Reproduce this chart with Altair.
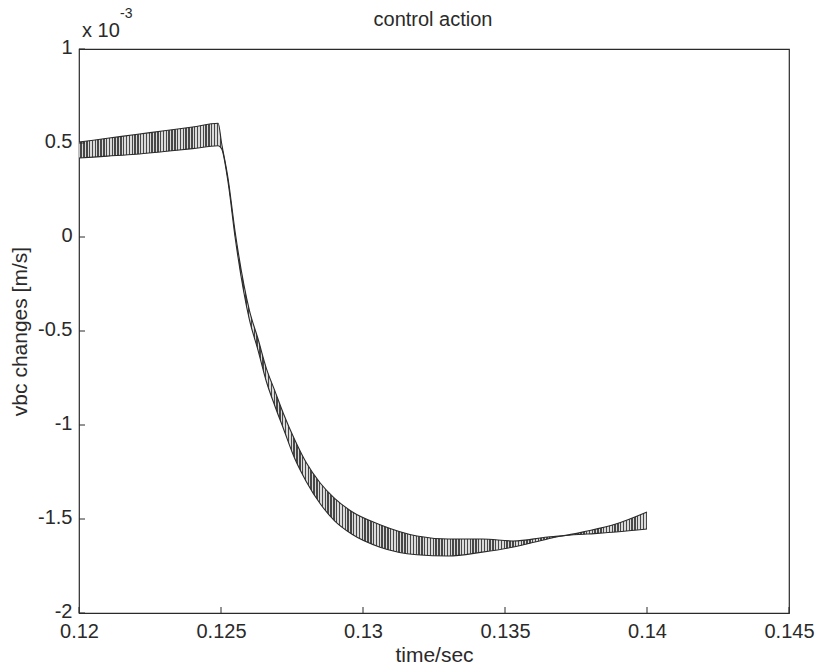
import altair as alt
import pandas as pd

# envelope of the switching control signal (x 1e-3 m/s)
times = [0.1200, 0.1210, 0.1220, 0.1230, 0.1240, 0.1249, 0.12502, 0.12525, 0.1255,
         0.1260, 0.1263, 0.1266, 0.1269, 0.1272, 0.1276, 0.1280, 0.1285, 0.1290,
         0.1296, 0.1306, 0.1319, 0.1330, 0.1342, 0.1353, 0.1365, 0.1370, 0.1379,
         0.1389, 0.1400]
upper = [0.505, 0.525, 0.545, 0.565, 0.585, 0.605, 0.50, 0.31, 0.025,
         -0.39, -0.54, -0.70, -0.82, -0.94, -1.08, -1.20, -1.31, -1.39,
         -1.46, -1.53, -1.590, -1.606, -1.606, -1.617, -1.596, -1.59, -1.564,
         -1.527, -1.463]
lower = [0.420, 0.430, 0.440, 0.455, 0.470, 0.485, 0.47, 0.29, -0.005,
         -0.44, -0.60, -0.77, -0.90, -1.02, -1.18, -1.30, -1.42, -1.51,
         -1.58, -1.650, -1.690, -1.697, -1.676, -1.649, -1.606, -1.59, -1.580,
         -1.569, -1.553]

x_ticks = [0.12, 0.125, 0.13, 0.135, 0.14, 0.145]
y_ticks = [-2, -1.5, -1, -0.5, 0, 0.5, 1]

df = pd.DataFrame({"t": times, "upper": upper, "lower": lower})
xt = pd.DataFrame({"v": x_ticks})
yt = pd.DataFrame({"v": y_ticks})
one = pd.DataFrame({"k": [0]})

W, H = 710, 564
FONT = "Liberation Sans"
FS = 20
INK = "#2a2a2a"

# vertical hatching (style only)
N = 200
stops = []
for i in range(N):
    stops += [
        {"offset": i / N, "color": "#d6d6d6"},
        {"offset": (i + 0.5) / N, "color": "#d6d6d6"},
        {"offset": (i + 0.5) / N, "color": "#333333"},
        {"offset": (i + 1) / N, "color": "#333333"},
    ]
hatch = {"gradient": "linear", "x1": 0, "y1": 0, "x2": 1, "y2": 0, "stops": stops}

xs = alt.Scale(domain=[0.12, 0.145], nice=False, zero=False)
ys = alt.Scale(domain=[-2, 1], nice=False, zero=False)

xaxis = alt.Axis(values=x_ticks, labelExpr="'' + datum.value", tickSize=0, domain=False,
                 grid=False, labelFont=FONT, labelFontSize=FS, labelColor=INK,
                 labelFlush=False, labelOverlap=False,
                 labelPadding=8, title="time/sec", titleFont=FONT, titleFontSize=FS + 1,
                 titleFontWeight="normal", titleColor=INK, titlePadding=3)
yaxis = alt.Axis(values=y_ticks, labelExpr="'' + datum.value", tickSize=0, domain=False,
                 grid=False, labelFont=FONT, labelFontSize=FS, labelColor=INK,
                 labelFlush=False, labelOverlap=False, labelOffset=-2,
                 labelPadding=7, title="vbc changes [m/s]", titleFont=FONT,
                 titleFontSize=FS + 1, titleFontWeight="normal", titleColor=INK,
                 titlePadding=7)

base = alt.Chart(df)
band = base.mark_area(fill=hatch, opacity=0.9, interpolate="monotone").encode(
    x=alt.X("t:Q", scale=xs, axis=xaxis),
    y=alt.Y("upper:Q", scale=ys, axis=yaxis),
    y2="lower:Q",
)
up_line = base.mark_line(color=INK, strokeWidth=1.1, interpolate="monotone").encode(
    x=alt.X("t:Q", scale=xs), y=alt.Y("upper:Q", scale=ys))
lo_line = base.mark_line(color=INK, strokeWidth=1.1, interpolate="monotone").encode(
    x=alt.X("t:Q", scale=xs), y=alt.Y("lower:Q", scale=ys))

xtick_marks = alt.Chart(xt).mark_rule(color=INK, strokeWidth=1).encode(
    x=alt.X("v:Q", scale=xs), y=alt.value(H), y2=alt.value(H - 6))
ytick_marks = alt.Chart(yt).mark_rule(color=INK, strokeWidth=1).encode(
    y=alt.Y("v:Q", scale=ys), x=alt.value(0), x2=alt.value(6))

title = alt.Chart(one).mark_text(text="control action", font=FONT, fontSize=FS, color=INK,
                                 align="center", baseline="alphabetic").encode(
    x=alt.value(354), y=alt.value(-23))
exp1 = alt.Chart(one).mark_text(text="x 10", font=FONT, fontSize=FS, color=INK,
                                align="left", baseline="alphabetic").encode(
    x=alt.value(3), y=alt.value(-12))
exp2 = alt.Chart(one).mark_text(text="-3", font=FONT, fontSize=14, color=INK,
                                align="left", baseline="alphabetic").encode(
    x=alt.value(41), y=alt.value(-31))

chart = alt.layer(band, up_line, lo_line, xtick_marks, ytick_marks, title, exp1, exp2).properties(
    width=W, height=H,
    autosize=alt.AutoSizeParams(type="none"),
    padding={"left": 79, "top": 49, "right": 30, "bottom": 57},
    background="white",
).configure_view(stroke=INK, strokeWidth=1.2)

chart.save("out.html", embed_options={"renderer": "svg", "actions": False})
